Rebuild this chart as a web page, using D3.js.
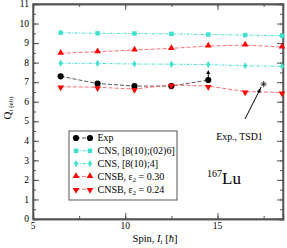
<!DOCTYPE html>
<html>
<head>
<meta charset="utf-8">
<script src="https://cdn.jsdelivr.net/npm/d3@7"></script>
<style>
body { margin: 0; background: #fff; }
svg text { font-family: "Liberation Serif", "DejaVu Serif", serif; }
</style>
</head>
<body>
<svg id="chart"></svg>
<script>
const width = 287;
const height = 248;
const margin = {top: 4, right: 4, bottom: 29, left: 33};

// spins
const spins = [6.5, 8.5, 10.5, 12.5, 14.5, 16.5, 18.5];
const expSpins = [6.5, 8.5, 10.5, 12.5, 14.5];
// Q_t values (eb)
const expQ = [7.30, 6.93, 6.80, 6.80, 7.11];
const cnsA = [9.53, 9.50, 9.49, 9.47, 9.44, 9.41, 9.38];
const cnsB = [7.97, 7.96, 7.93, 7.92, 7.90, 7.84, 7.81];
const cnsb30 = [8.48, 8.56, 8.65, 8.73, 8.85, 8.90, 8.80];
const cnsb24 = [6.77, 6.74, 6.65, 6.86, 6.80, 6.52, 6.47];
const tsdPoint = [17.5, 6.9];
const expLimitTop = 7.62;

const xTicks = [5, 10, 15];
const yTicks = [0, 1, 2, 3, 4, 5, 6, 7, 8, 9, 10, 11];

const series = [
    {name: "Exp", xs: expSpins, ys: expQ, color: "#000", line: "#555", symbol: d3.symbolCircle, size: 30, dash: "4,2"},
    {name: "CNS, [8(10);(02)6]", xs: spins, ys: cnsA, color: "#40e0d0", line: "#40e0d0", symbol: d3.symbolSquare, size: 20, dash: "3,1.5,1,1.5"},
    {name: "CNS, [8(10);4]", xs: spins, ys: cnsB, color: "#40e0d0", line: "#40e0d0", symbol: d3.symbolDiamond, size: 15, dash: "3,1.5,1,1.5"},
    {name: "CNSB, ε2 = 0.30", xs: spins, ys: cnsb30, color: "#ff0000", line: "#ff7070", symbol: d3.symbolTriangle, size: 19, dash: "4,2", rot: 0},
    {name: "CNSB, ε2 = 0.24", xs: spins, ys: cnsb24, color: "#ff0000", line: "#ff7070", symbol: d3.symbolTriangle, size: 19, dash: "4,2", rot: 180}
];

const svg = d3.select("#chart")
    .attr("width", width)
    .attr("height", height);

const x = d3.scaleLinear().domain([5, 18.55]).range([margin.left, width - margin.right]);
const y = d3.scaleLinear().domain([0, 11]).range([height - margin.bottom, margin.top]);

// axes, ticks pointing inward on all four sides
const minorX = d3.range(5, 18.6, 2.5);
const minorY = d3.range(0, 11.01, 0.5);
const axBottom = svg.append("g").attr("transform", `translate(0,${height - margin.bottom})`);
axBottom.call(d3.axisBottom(x).tickValues(minorX).tickSize(-3).tickFormat(""));
axBottom.append("g").call(d3.axisBottom(x).tickValues(xTicks).tickSize(-6).tickFormat(""));
const axTop = svg.append("g").attr("transform", `translate(0,${margin.top})`);
axTop.call(d3.axisTop(x).tickValues(minorX).tickSize(-3).tickFormat(""));
axTop.append("g").call(d3.axisTop(x).tickValues(xTicks).tickSize(-6).tickFormat(""));
const axLeft = svg.append("g").attr("transform", `translate(${margin.left},0)`);
axLeft.call(d3.axisLeft(y).tickValues(minorY).tickSize(-3).tickFormat(""));
axLeft.append("g").call(d3.axisLeft(y).tickValues(yTicks).tickSize(-6).tickFormat(""));
const axRight = svg.append("g").attr("transform", `translate(${width - margin.right},0)`);
axRight.call(d3.axisRight(y).tickValues(minorY).tickSize(-3).tickFormat(""));
axRight.append("g").call(d3.axisRight(y).tickValues(yTicks).tickSize(-6).tickFormat(""));
svg.selectAll(".domain").attr("stroke", "#555").attr("stroke-width", 1.3);
svg.selectAll(".tick line").attr("stroke", "#555");

// frame
svg.append("rect")
    .attr("x", margin.left).attr("y", margin.top)
    .attr("width", width - margin.left - margin.right)
    .attr("height", height - margin.top - margin.bottom)
    .attr("fill", "none").attr("stroke", "#555").attr("stroke-width", 1.3);

// tick labels
svg.append("g").selectAll("text")
    .data(xTicks).join("text")
    .attr("x", d => x(d)).attr("y", height - margin.bottom + 10)
    .attr("text-anchor", "middle").attr("font-size", 9.5)
    .text(d => d);
svg.append("g").selectAll("text")
    .data(yTicks).join("text")
    .attr("x", margin.left - 4).attr("y", d => y(d) + 3.2)
    .attr("text-anchor", "end").attr("font-size", 9.5)
    .text(d => d);

// axis titles
const xt = svg.append("text")
    .attr("x", 155).attr("y", height - 6)
    .attr("text-anchor", "middle").attr("font-size", 10.5);
xt.append("tspan").text("Spin, ");
xt.append("tspan").attr("font-style", "italic").text("I");
xt.append("tspan").attr("font-size", 7).attr("dy", 2).text("i");
xt.append("tspan").attr("dy", -2).text("  [");
xt.append("tspan").attr("font-style", "italic").text("ħ");
xt.append("tspan").text("]");

const yt = svg.append("text")
    .attr("transform", `translate(10.5,108) rotate(-90)`)
    .attr("text-anchor", "middle").attr("font-size", 11);
yt.append("tspan").text("Q");
yt.append("tspan").attr("font-size", 7).attr("dy", 2).text("t");
yt.append("tspan").attr("font-size", 7).text(" (eb)");

// series
series.forEach(s => {
    const pts = s.xs.map((v, i) => [v, s.ys[i]]);
    svg.append("path")
        .datum(pts)
        .attr("fill", "none")
        .attr("stroke", s.line)
        .attr("stroke-width", 1)
        .attr("stroke-dasharray", s.dash)
        .attr("d", d3.line().x(d => x(d[0])).y(d => y(d[1])));
    svg.append("g").selectAll("path")
        .data(pts).join("path")
        .attr("transform", d => `translate(${x(d[0])},${y(d[1]) + (s.rot === 180 ? 0.8 : (s.rot === 0 ? -0.4 : 0))}) rotate(${s.rot || 0})`)
        .attr("d", d3.symbol().type(s.symbol).size(s.size))
        .attr("fill", s.color);
});

// lower limit arrow on last exp point
const lastX = x(expSpins[expSpins.length - 1]);
svg.append("line")
    .attr("x1", lastX).attr("x2", lastX)
    .attr("y1", y(expQ[expQ.length - 1])).attr("y2", y(expLimitTop) + 2)
    .attr("stroke", "#000").attr("stroke-width", 1);
svg.append("path")
    .attr("d", `M${lastX - 2},${y(expLimitTop) + 4} L${lastX},${y(expLimitTop)} L${lastX + 2},${y(expLimitTop) + 4}Z`)
    .attr("fill", "#000");

// TSD1 asterisk and arrow
const ax = x(tsdPoint[0]), ay = y(tsdPoint[1]);
svg.append("g").attr("transform", `translate(${ax},${ay})`)
    .selectAll("line").data([0, 45, 90, 135]).join("line")
    .attr("x1", -3.2).attr("x2", 3.2).attr("y1", 0).attr("y2", 0)
    .attr("transform", d => `rotate(${d})`)
    .attr("stroke", "#000").attr("stroke-width", 0.7);
const sx = 245, sy = 119;
const ex = ax - 2.5, ey = ay + 3;
const ang = Math.atan2(ey - sy, ex - sx);
svg.append("line")
    .attr("x1", sx).attr("y1", sy).attr("x2", ex).attr("y2", ey)
    .attr("stroke", "#000").attr("stroke-width", 1);
svg.append("path")
    .attr("d", `M${ex},${ey} L${ex - 6 * Math.cos(ang - 0.3)},${ey - 6 * Math.sin(ang - 0.3)} L${ex - 6 * Math.cos(ang + 0.3)},${ey - 6 * Math.sin(ang + 0.3)}Z`)
    .attr("fill", "#000");
svg.append("text")
    .attr("x", 239.5).attr("y", 140)
    .attr("text-anchor", "middle").attr("font-size", 9.8)
    .text("Exp., TSD1");

// nucleus label
const lu = svg.append("text").attr("x", 207).attr("y", 184);
lu.append("tspan").attr("font-size", 10).attr("dy", -7).text("167");
lu.append("tspan").attr("font-size", 17).attr("dy", 7).text("Lu");

// legend
const legend = svg.append("g");
legend.append("rect")
    .attr("x", 69).attr("y", 131).attr("width", 108).attr("height", 69)
    .attr("fill", "#fff").attr("stroke", "#555").attr("stroke-width", 1);
series.forEach((s, i) => {
    const ly = 138 + i * 12.8;
    legend.append("line")
        .attr("x1", 76).attr("x2", 90).attr("y1", ly).attr("y2", ly)
        .attr("stroke", s.line).attr("stroke-dasharray", s.dash);
    [76, 90].forEach(px => {
        legend.append("path")
            .attr("transform", `translate(${px},${ly + (s.rot === 180 ? 0.8 : (s.rot === 0 ? -0.4 : 0))}) rotate(${s.rot || 0})`)
            .attr("d", d3.symbol().type(s.symbol).size(s.size))
            .attr("fill", s.color);
    });
    const t = legend.append("text").attr("x", 97.5).attr("y", ly + 3.3).attr("font-size", 10);
    if (s.name.includes("ε2")) {
        const parts = s.name.split("ε2");
        t.append("tspan").text(parts[0] + "ε");
        t.append("tspan").attr("font-size", 6.5).attr("dy", 2).text("2");
        t.append("tspan").attr("dy", -2).text(parts[1]);
    } else {
        t.text(s.name);
    }
});
</script>
</body>
</html>
